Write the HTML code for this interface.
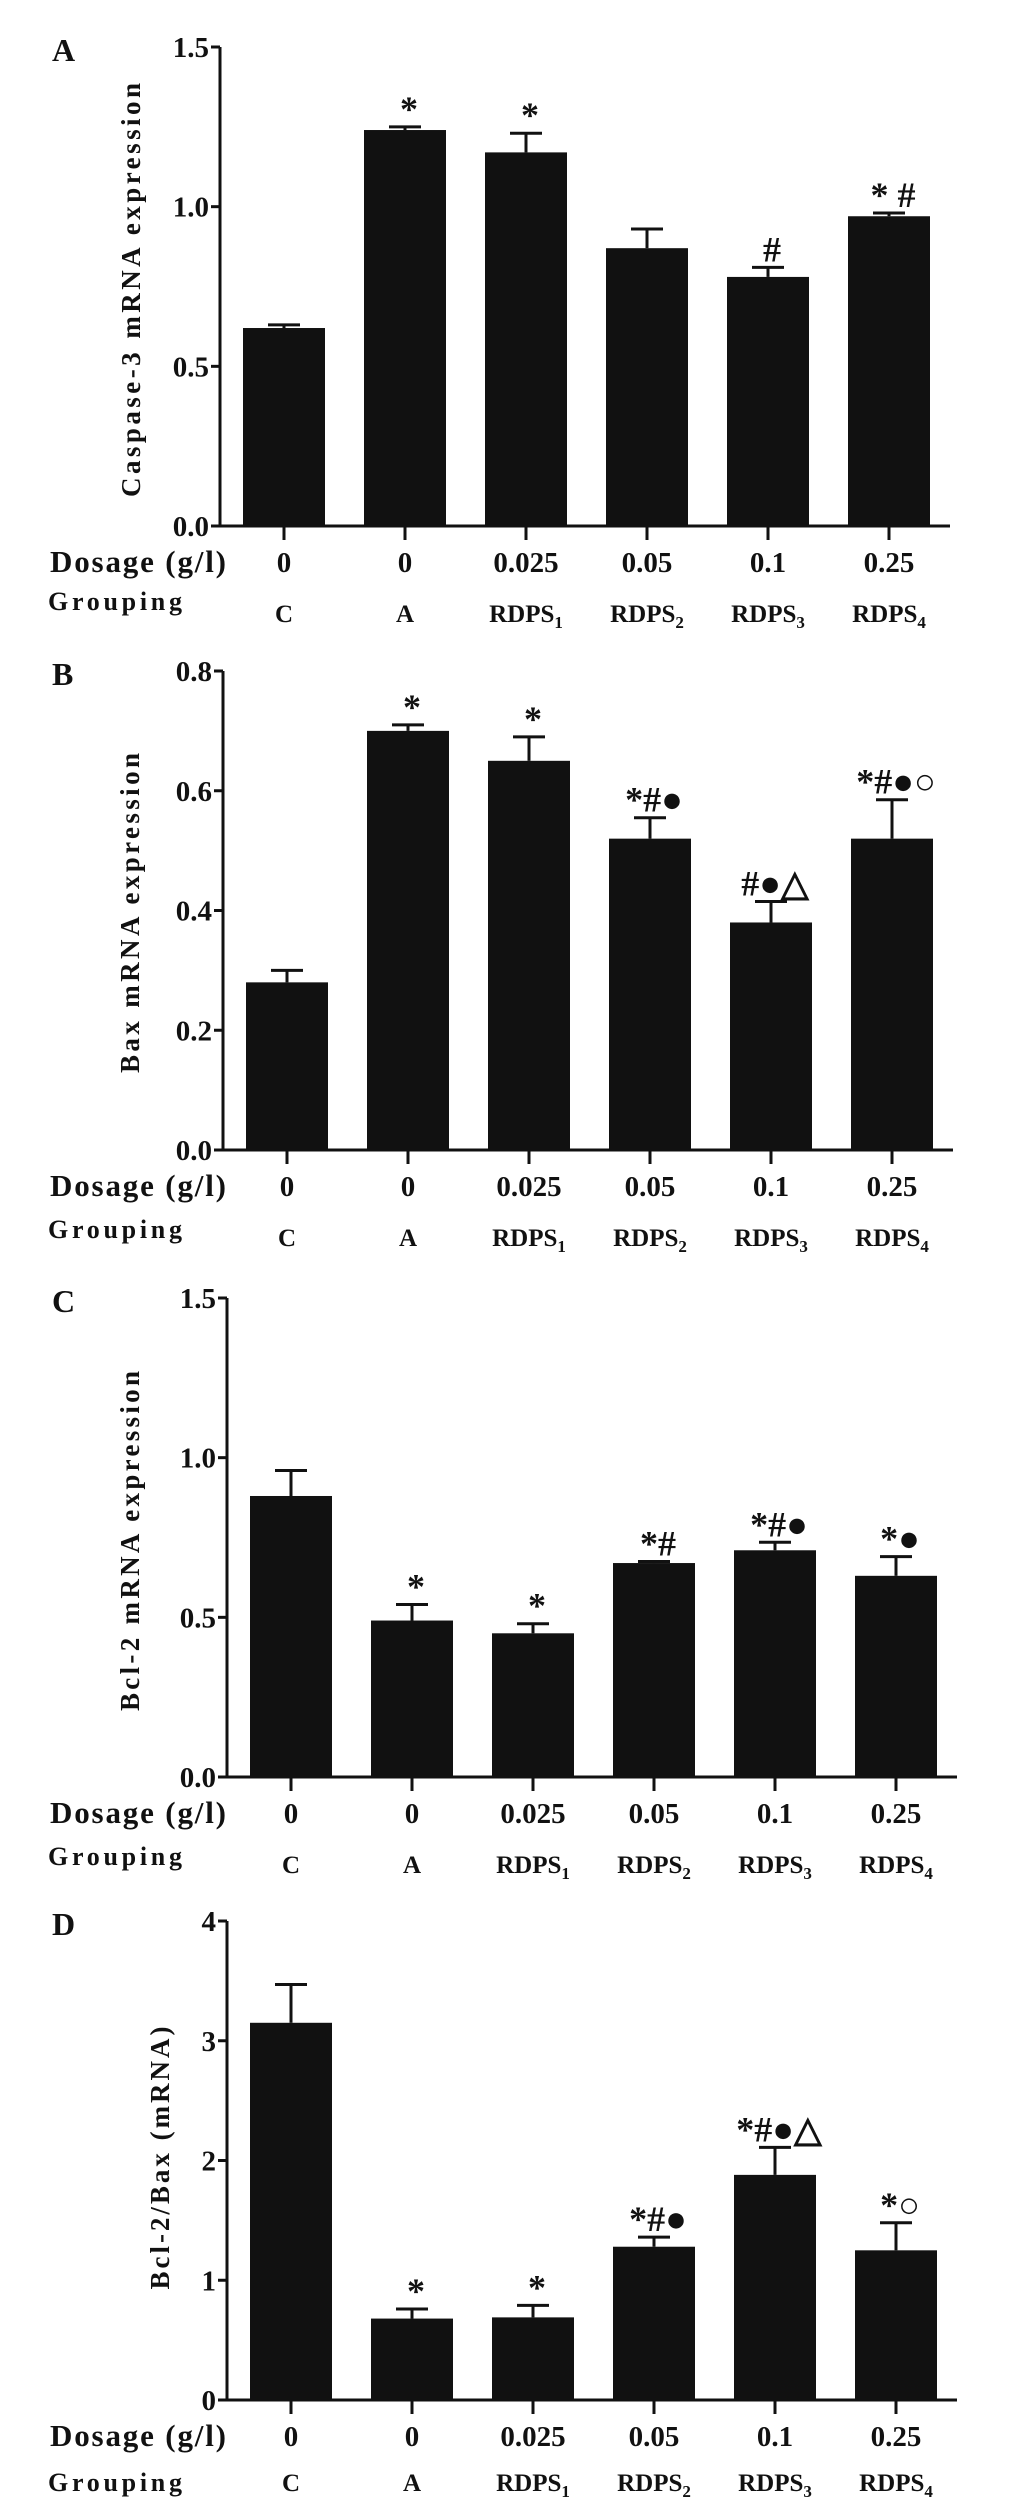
<!DOCTYPE html>
<html><head><meta charset="utf-8"><style>
html,body{margin:0;padding:0;background:#fff;}
svg{display:block;}
text{font-family:"Liberation Serif",serif;font-weight:bold;fill:#111;}
</style></head><body>
<svg id="fig" width="1033" height="2501" viewBox="0 0 1033 2501" xmlns="http://www.w3.org/2000/svg"></svg>
<script>
const groups = ["C","A","RDPS","RDPS","RDPS","RDPS"];
const groupSubs = ["","","1","2","3","4"];
const dosages = ["0","0","0.025","0.05","0.1","0.25"];

const valuesA = [0.62,1.24,1.17,0.87,0.78,0.97];
const errorsA = [0.01,0.01,0.06,0.06,0.03,0.01];
const marksA = ["","*","*","","#","* #"];
const ticksA = ["0.0","0.5","1.0","1.5"];

const valuesB = [0.28,0.70,0.65,0.52,0.38,0.52];
const errorsB = [0.02,0.01,0.04,0.035,0.035,0.065];
const marksB = ["","*","*","*#●","#●△","*#●○"];
const ticksB = ["0.0","0.2","0.4","0.6","0.8"];

const valuesC = [0.88,0.49,0.45,0.67,0.71,0.63];
const errorsC = [0.08,0.05,0.03,0.005,0.025,0.06];
const marksC = ["","*","*","*#","*#●","*●"];
const ticksC = ["0.0","0.5","1.0","1.5"];

const valuesD = [3.15,0.68,0.69,1.28,1.88,1.25];
const errorsD = [0.32,0.08,0.1,0.08,0.23,0.23];
const marksD = ["","*","*","*#●","*#●△","*○"];
const ticksD = ["0","1","2","3","4"];

const NS="http://www.w3.org/2000/svg";
const svg=document.getElementById('fig');
function mk(tag,attrs,parent,txt){const e=document.createElementNS(NS,tag);for(const k in attrs)e.setAttribute(k,attrs[k]);if(txt!==undefined)e.textContent=txt;(parent||svg).appendChild(e);return e;}

function panel(p){
  const g=mk('g',{});
  
  
  const ymax=parseFloat(p.ticks[p.ticks.length-1]);
  const y=v=>p.y0-(v/ymax)*(p.y0-p.ytop);
  const x=i=>p.ax+64+i*121;
  const lab=mk('text',{x:52,y:p.ytop+14,'font-size':32},g,p.letter);
  
  
  const ya=mk('line',{x1:p.ax,y1:p.ytop,x2:p.ax,y2:p.y0+1,stroke:'#111','stroke-width':3},g);
  
  
  const xa=mk('line',{x1:p.ax-9,y1:p.y0,x2:p.ax+730,y2:p.y0,stroke:'#111','stroke-width':3},g);
  
  
  p.ticks.forEach(t=>{
    const ty=y(parseFloat(t));
    mk('line',{x1:p.ax-9,y1:ty,x2:p.ax,y2:ty,stroke:'#111','stroke-width':3},g);
    const tl=mk('text',{x:p.ax-11,y:ty+10,'font-size':29,'text-anchor':'end'},g,t);
    
    
  });
  const yt=mk('text',{x:0,y:0,'font-size':27,'text-anchor':'middle',textLength:p.tLen,lengthAdjust:'spacing',transform:`translate(${p.ax-p.tOff},${p.tY}) rotate(-90)`},g,p.title);
  
  
  p.values.forEach((v,i)=>{
    const cx=x(i), top=y(v), et=y(v+p.errors[i]);
    const b=mk('rect',{x:cx-41,y:top,width:82,height:p.y0-top,fill:'#111'},g);
    
    
    mk('line',{x1:cx,y1:top,x2:cx,y2:et,stroke:'#111','stroke-width':3},g);
    mk('line',{x1:cx-16,y1:et,x2:cx+16,y2:et,stroke:'#111','stroke-width':3},g);
    mk('line',{x1:cx,y1:p.y0,x2:cx,y2:p.y0+14,stroke:'#111','stroke-width':3},g);
    if(p.marks[i]){
      const m=mk('text',{x:cx+4,y:et-6,'font-size':36,'font-weight':'normal','text-anchor':'middle'},g,p.marks[i]);
      
      
    }
    const d=mk('text',{x:cx,y:p.y0+46,'font-size':29,'text-anchor':'middle'},g,dosages[i]);
    
    
    const gl=mk('text',{x:cx,y:p.y0+p.gl,'font-size':25,'text-anchor':'middle'},g);
    
    
    mk('tspan',{},gl,groups[i]);
    if(groupSubs[i]) mk('tspan',{'font-size':17,dy:6},gl,groupSubs[i]);
  });
  const dl=mk('text',{x:50,y:p.y0+46,'font-size':31,textLength:176},g,'Dosage (g/l)');
  
  
  const gr=mk('text',{x:48,y:p.y0+p.gt,'font-size':26,textLength:134},g,'Grouping');
  
  
}

panel({letter:'A',ax:220,ytop:47,y0:526,ticks:ticksA,values:valuesA,errors:errorsA,marks:marksA,title:'Caspase-3 mRNA expression',tLen:414,tOff:80,tY:290,gt:84,gl:96});
panel({letter:'B',ax:223,ytop:671,y0:1150,ticks:ticksB,values:valuesB,errors:errorsB,marks:marksB,title:'Bax mRNA expression',tLen:320,tOff:84,tY:913,gt:88,gl:96});
panel({letter:'C',ax:227,ytop:1298,y0:1777,ticks:ticksC,values:valuesC,errors:errorsC,marks:marksC,title:'Bcl-2 mRNA expression',tLen:340,tOff:88,tY:1541,gt:88,gl:96});
panel({letter:'D',ax:227,ytop:1921,y0:2400,ticks:ticksD,values:valuesD,errors:errorsD,marks:marksD,title:'Bcl-2/Bax (mRNA)',tLen:263,tOff:58,tY:2158,gt:91,gl:91});
</script>
</body></html>
